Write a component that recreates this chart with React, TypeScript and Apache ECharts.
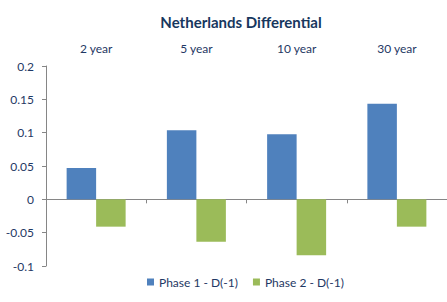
import React, { useEffect, useRef } from "react";
import * as echarts from "echarts";

const categories = ["2 year", "5 year", "10 year", "30 year"];
const phase1 = [0.047, 0.1035, 0.0975, 0.1435];
const phase2 = [-0.041, -0.0635, -0.084, -0.041];
const seriesNames = ["Phase 1 - D(-1)", "Phase 2 - D(-1)"];

const FONT = "Lato, 'Open Sans', sans-serif";
const TEXT = "#1F3864";

export default function App() {
  const ref = useRef<HTMLDivElement>(null);
  useEffect(() => {
    if (!ref.current) return;
    const chart = echarts.init(ref.current, undefined, { renderer: "svg" });
    chart.setOption({
      animation: false,
      backgroundColor: "#ffffff",
      title: {
        text: "Netherlands Differential",
        left: 236,
        top: 9,
        textAlign: "center",
        textStyle: { fontFamily: FONT, fontSize: 15, fontWeight: "bold", color: "#17375E" },
      },
      legend: {
        bottom: 9,
        left: 142,
        icon: "rect",
        itemWidth: 7,
        itemHeight: 7,
        itemGap: 15,
        textStyle: { fontFamily: FONT, fontSize: 12, color: TEXT },
        data: seriesNames,
      },
      grid: { left: 46, top: 66, width: 410, height: 200, containLabel: false },
      xAxis: [
        {
          type: "category",
          data: categories,
          position: "bottom",
          axisLine: { onZero: true, lineStyle: { color: "#868686", width: 1 } },
          axisTick: { show: true, length: 4, lineStyle: { color: "#868686" } },
          axisLabel: { show: false },
          splitLine: { show: false },
        },
        {
          type: "category",
          data: categories,
          position: "top",
          axisLine: { show: false },
          axisTick: { show: false },
          axisLabel: { show: true, margin: 12, fontFamily: FONT, fontSize: 12, color: TEXT },
          splitLine: { show: false },
        },
      ],
      yAxis: {
        type: "value",
        min: -0.1,
        max: 0.2,
        interval: 0.05,
        axisLine: { show: true, lineStyle: { color: "#868686", width: 1 } },
        axisTick: { show: true, length: 4, lineStyle: { color: "#868686" } },
        axisLabel: { margin: 12, fontFamily: FONT, fontSize: 12, color: TEXT },
        splitLine: { show: false },
      },
      series: [
        {
          name: seriesNames[0],
          type: "bar",
          data: phase1,
          xAxisIndex: 0,
          barWidth: 29.5,
          barGap: "0%",
          itemStyle: { color: "#4F81BD" },
        },
        {
          name: seriesNames[1],
          type: "bar",
          data: phase2,
          xAxisIndex: 0,
          barWidth: 29.5,
          barGap: "0%",
          itemStyle: { color: "#9BBB59" },
        },
      ],
    });
    return () => chart.dispose();
  }, []);
  return (
    <div
      ref={ref}
      style={{ position: "fixed", left: 0, top: 0, width: 447, height: 302 }}
    />
  );
}
